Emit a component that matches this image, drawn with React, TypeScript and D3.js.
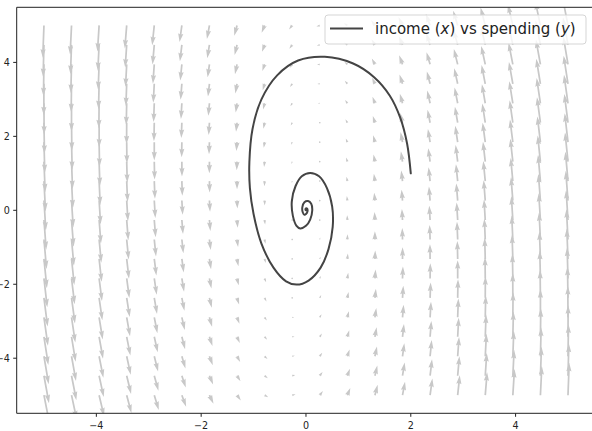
import React from 'react';
import * as d3 from 'd3';

// ---- data ----
const xTicks = [-4, -2, 0, 2, 4];
const yTicks = [-4, -2, 0, 2, 4];
const gridMin = -5;
const gridMax = 5;
const gridCount = 20;
// linear field: dx/dt = a*x + b*y ; dy/dt = c*x + d*y (read from arrow directions)
const fieldDx = [-0.07, -0.11];
const fieldDy = [1.0, -0.085];
// trajectory points
const trajX = [2.0, 1.93, 1.8, 1.6, 1.3, 0.9, 0.36, -0.15, -0.55, -0.85, -1.02, -1.08, -1.07, -1.0, -0.85, -0.62, -0.38, -0.18, 0.05, 0.28, 0.43, 0.51, 0.5, 0.4, 0.25, 0.08, -0.08, -0.2, -0.27, -0.25, -0.18, -0.11, 0.0, 0.08, 0.12, 0.1, 0.04, -0.03, -0.07, -0.06, -0.03, 0.0, 0.03, 0.02, 0.0, -0.01, 0.0];
const trajY = [1.0, 1.8, 2.5, 3.1, 3.6, 3.97, 4.15, 4.05, 3.65, 3.0, 2.2, 1.3, 0.6, -0.1, -0.9, -1.55, -1.92, -2.01, -1.9, -1.55, -1.05, -0.45, 0.1, 0.6, 0.92, 1.01, 0.92, 0.65, 0.25, -0.15, -0.42, -0.49, -0.42, -0.25, 0.0, 0.18, 0.25, 0.22, 0.08, -0.06, -0.12, -0.1, -0.02, 0.05, 0.05, 0.02, 0.0];
const legendLabel = ['income (', 'x', ') vs spending (', 'y', ')'];

const W = 592;
const H = 431;
const FONT = 'DejaVu Sans, sans-serif';

export default function App() {
  const x = d3.scaleLinear().domain([-5.52, 5.5]).range([16.7, 594.2]);
  const y = d3.scaleLinear().domain([-5.49, 5.49]).range([413.3, 7.3]);
  const axW = 594.2 - 16.7;

  const grid = d3.range(gridCount).map((i) => gridMin + (i * (gridMax - gridMin)) / (gridCount - 1));
  const vecs: { px: number; py: number; u: number; v: number; a: number }[] = [];
  for (const gy of grid) {
    for (const gx of grid) {
      const u = fieldDx[0] * gx + fieldDx[1] * gy;
      const v = fieldDy[0] * gx + fieldDy[1] * gy;
      vecs.push({ px: x(gx), py: y(gy), u, v, a: Math.hypot(u, v) });
    }
  }
  const amean = d3.mean(vecs, (d) => d.a) as number;
  const sn = 20;
  const widthFrac = 0.06 / sn;
  const scale = 1.8 * amean * sn;
  const widthPx = widthFrac * axW;
  const hw = 3, hl = 5, hal = 4.5, minsh = 5, minlength = 1;

  const arrowD = (d: { px: number; py: number; u: number; v: number; a: number }) => {
    const L = d.a / (scale * widthFrac);
    let xs: number[];
    let ys: number[];
    if (L < minlength) {
      xs = []; ys = [];
      for (let k = 0; k < 8; k++) {
        xs.push(Math.cos((k * Math.PI) / 3) * minlength * 0.5);
        ys.push(Math.sin((k * Math.PI) / 3) * minlength * 0.5);
      }
    } else {
      let bx: number[];
      const by = [0.5, 0.5, 0.5 * hw, 0];
      let sh = 1;
      if (L < minsh) {
        bx = [0, minsh - hal, minsh - hl, minsh];
        sh = L / minsh;
      } else {
        bx = [0, L - hal, L - hl, L];
      }
      const ii = [0, 1, 2, 3, 2, 1, 0, 0];
      xs = ii.map((i) => bx[i] * sh);
      ys = ii.map((i, k) => by[i] * sh * (k >= 3 && k < 7 ? -1 : 1));
    }
    const th = Math.atan2(d.v, d.u);
    const c = Math.cos(th), s = Math.sin(th);
    const pts = xs.map((xx, k) => {
      const lx = xx * widthPx, ly = ys[k] * widthPx;
      return [d.px + lx * c - ly * s, d.py - (lx * s + ly * c)];
    });
    return 'M' + pts.map((p) => p[0].toFixed(2) + ',' + p[1].toFixed(2)).join('L') + 'Z';
  };

  const line = d3
    .line<number>()
    .x((_, i) => x(trajX[i]))
    .y((_, i) => y(trajY[i]))
    .curve(d3.curveCatmullRom.alpha(0.5));

  const left = 16.7, right = 594.2, top = 7.3, bottom = 413.3;
  const fmt = (t: number) => (t < 0 ? '\u2212' + Math.abs(t) : String(t));

  return (
    <svg width={W} height={H} style={{ position: 'absolute', left: 0, top: 0, background: '#fff' }} fontFamily={FONT}>
      <defs>
        <clipPath id="plot">
          <rect x={left} y={top} width={right - left} height={bottom - top} />
        </clipPath>
      </defs>
      <rect x={0} y={0} width={W} height={H} fill="#fff" />
      <g clipPath="url(#plot)">
        {vecs.map((d, i) => (
          <path key={i} d={arrowD(d)} fill="#c8c8c8" stroke="none" />
        ))}
        <path d={line(trajX) || ''} fill="none" stroke="#444" strokeWidth={2} strokeLinejoin="round" strokeLinecap="round" />
      </g>
      {/* spines */}
      <g stroke="#222" strokeWidth={1} fill="none">
        <line x1={left} y1={top} x2={left} y2={bottom} />
        <line x1={left} y1={bottom} x2={right} y2={bottom} />
        <line x1={left} y1={top} x2={right} y2={top} />
        <line x1={right} y1={top} x2={right} y2={bottom} />
      </g>
      {/* x ticks */}
      {xTicks.map((t) => (
        <g key={'x' + t}>
          <line x1={x(t)} x2={x(t)} y1={bottom} y2={bottom + 3.5} stroke="#222" strokeWidth={1} />
          <text x={x(t)} y={429.3} fontSize={9.6} textAnchor="middle" fill="#222">
            {fmt(t)}
          </text>
        </g>
      ))}
      {yTicks.map((t) => (
        <g key={'y' + t}>
          <line x1={left - 3.5} x2={left} y1={y(t)} y2={y(t)} stroke="#222" strokeWidth={1} />
          <text x={9.8} y={y(t) + 3.5} fontSize={9.6} textAnchor="end" fill="#222">
            {fmt(t)}
          </text>
        </g>
      ))}
      {/* legend */}
      <rect x={325} y={15} width={261} height={29} rx={3} fill="#fff" fillOpacity={0.8} stroke="#d5d5d5" strokeWidth={1} />
      <line x1={330} x2={363} y1={28.5} y2={28.5} stroke="#444" strokeWidth={2} />
      <text x={375} y={33.6} fontSize={15} fill="#222">
        <tspan>{legendLabel[0]}</tspan>
        <tspan fontStyle="italic">{legendLabel[1]}</tspan>
        <tspan>{legendLabel[2]}</tspan>
        <tspan fontStyle="italic">{legendLabel[3]}</tspan>
        <tspan>{legendLabel[4]}</tspan>
      </text>
    </svg>
  );
}
